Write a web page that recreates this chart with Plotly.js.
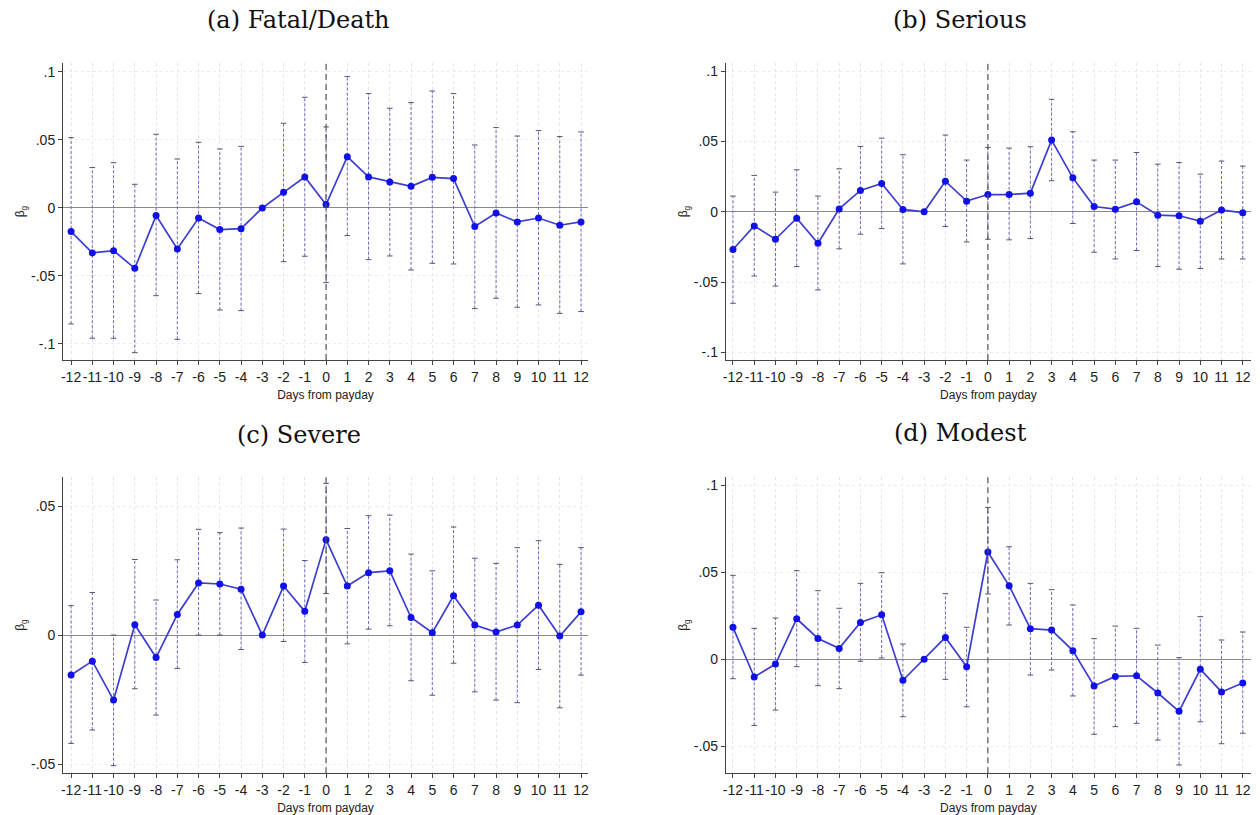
<!DOCTYPE html>
<html>
<head>
<meta charset="utf-8">
<script src="https://cdn.plot.ly/plotly-3.0.1.min.js"></script>
<style>html,body{margin:0;padding:0;background:#fff;}#chart{width:1260px;height:815px;}</style>
</head>
<body>
<div id="chart"></div>
<script>
const days = [-12,-11,-10,-9,-8,-7,-6,-5,-4,-3,-2,-1,0,1,2,3,4,5,6,7,8,9,10,11,12];

const panelTitles = ["(a) Fatal/Death", "(b) Serious", "(c) Severe", "(d) Modest"];

// (a) Fatal/Death
const fatalCoef = [-0.0174,-0.0331,-0.0314,-0.0444,-0.0056,-0.0301,-0.0074,-0.0159,-0.0152,0,0.0115,0.0228,0.0025,0.0377,0.0228,0.0191,0.0159,0.0225,0.0216,-0.0137,-0.0037,-0.0103,-0.0074,-0.0127,-0.0103];
const fatalHi   = [0.0517,0.0297,0.0333,0.0174,0.0542,0.0360,0.0483,0.0434,0.0453,null,0.0623,0.0814,0.0596,0.0966,0.0841,0.0733,0.0775,0.0860,0.0841,0.0463,0.0591,0.0529,0.0569,0.0525,0.0559];
const fatalLo   = [-0.0853,-0.0958,-0.0958,-0.1064,-0.0645,-0.0966,-0.0630,-0.0750,-0.0755,null,-0.0395,-0.0355,-0.0549,-0.0203,-0.0380,-0.0353,-0.0456,-0.0407,-0.0412,-0.0740,-0.0664,-0.0730,-0.0713,-0.0775,-0.0762];

// (b) Serious
const seriousCoef = [-0.0268,-0.0100,-0.0195,-0.0045,-0.0223,0.0021,0.0152,0.0202,0.0017,0,0.0218,0.0076,0.0123,0.0123,0.0133,0.0510,0.0242,0.0038,0.0019,0.0071,-0.0024,-0.0028,-0.0066,0.0014,-0.0007];
const seriousHi   = [0.0112,0.0259,0.0140,0.0299,0.0112,0.0306,0.0465,0.0524,0.0406,null,0.0546,0.0368,0.0458,0.0453,0.0463,0.0800,0.0569,0.0368,0.0368,0.0422,0.0339,0.0351,0.0268,0.0361,0.0325];
const seriousLo   = [-0.0650,-0.0456,-0.0527,-0.0389,-0.0555,-0.0263,-0.0159,-0.0119,-0.0370,null,-0.0104,-0.0214,-0.0195,-0.0199,-0.0190,0.0221,-0.0083,-0.0287,-0.0335,-0.0275,-0.0389,-0.0408,-0.0403,-0.0335,-0.0335];

// (c) Severe
const severeCoef = [-0.0155,-0.0101,-0.0252,0.0040,-0.0087,0.0080,0.0202,0.0198,0.0178,0,0.0190,0.0092,0.0370,0.0190,0.0242,0.0249,0.0068,0.0009,0.0152,0.0039,0.0012,0.0039,0.0116,-0.0004,0.0090];
const severeHi   = [0.0114,0.0165,0.0000,0.0293,0.0136,0.0292,0.0410,0.0397,0.0415,null,0.0411,0.0289,0.0588,0.0413,0.0463,0.0465,0.0314,0.0249,0.0419,0.0298,0.0278,0.0339,0.0366,0.0274,0.0339];
const severeLo   = [-0.0420,-0.0368,-0.0506,-0.0208,-0.0310,-0.0129,0.0000,0.0000,-0.0056,null,-0.0025,-0.0106,0.0161,-0.0034,0.0023,0.0036,-0.0177,-0.0233,-0.0109,-0.0220,-0.0252,-0.0262,-0.0133,-0.0282,-0.0155];

// (d) Modest
const modestCoef = [0.0184,-0.0101,-0.0027,0.0233,0.0120,0.0063,0.0212,0.0256,-0.0120,0,0.0126,-0.0042,0.0616,0.0423,0.0176,0.0168,0.0050,-0.0153,-0.0098,-0.0094,-0.0193,-0.0298,-0.0057,-0.0187,-0.0136];
const modestHi   = [0.0482,0.0178,0.0237,0.0509,0.0394,0.0293,0.0436,0.0497,0.0088,null,0.0377,0.0184,0.0872,0.0646,0.0436,0.0400,0.0312,0.0119,0.0191,0.0178,0.0082,0.0010,0.0245,0.0111,0.0157];
const modestLo   = [-0.0111,-0.0379,-0.0291,-0.0042,-0.0151,-0.0168,-0.0011,0.0008,-0.0329,null,-0.0115,-0.0272,0.0375,0.0197,-0.0090,-0.0061,-0.0210,-0.0430,-0.0386,-0.0367,-0.0463,-0.0606,-0.0358,-0.0484,-0.0424];

const yTickVals = [-0.1,-0.05,0,0.05,0.1];
const yTickText = ["-.1","-.05","0",".05",".1"];

const panels = [
  {coef: fatalCoef, lo: fatalLo, hi: fatalHi, xr:[-12.38,12.33], yr:[-0.1118,0.1066], xd:[0.05,0.4667], yd:[0.5583,0.9227], tx:0.2373, ty:0.9755},
  {coef: seriousCoef, lo: seriousLo, hi: seriousHi, xr:[-12.34,12.39], yr:[-0.1053,0.1058], xd:[0.576,0.9929], yd:[0.5583,0.9227], tx:0.7623, ty:0.9755},
  {coef: severeCoef, lo: severeLo, hi: severeHi, xr:[-12.38,12.33], yr:[-0.0536,0.0614], xd:[0.05,0.4667], yd:[0.0511,0.4151], tx:0.2373, ty:0.466},
  {coef: modestCoef, lo: modestLo, hi: modestHi, xr:[-12.34,12.39], yr:[-0.0654,0.1048], xd:[0.576,0.9929], yd:[0.0511,0.4151], tx:0.7623, ty:0.4687}
];

const traces = [];
const layout = {
  width: 1260, height: 815,
  margin: {l:0, r:0, t:0, b:0},
  paper_bgcolor: '#ffffff', plot_bgcolor: '#ffffff',
  showlegend: false,
  font: {family: 'Liberation Sans, Arial, sans-serif', color: '#222'},
  shapes: [], annotations: []
};

panels.forEach((p, i) => {
  const n = i + 1;
  const xa = n === 1 ? 'x' : 'x' + n;
  const ya = n === 1 ? 'y' : 'y' + n;
  const xk = n === 1 ? 'xaxis' : 'xaxis' + n;
  const yk = n === 1 ? 'yaxis' : 'yaxis' + n;

  // CI segments
  const sx = [], sy = [], cx = [], cy = [];
  days.forEach((d, j) => {
    if (p.lo[j] === null) return;
    sx.push(d, d, null); sy.push(p.lo[j], p.hi[j], null);
    cx.push(d, d); cy.push(p.lo[j], p.hi[j]);
  });
  traces.push({x: sx, y: sy, xaxis: xa, yaxis: ya, mode: 'lines', type: 'scatter',
    line: {color: '#6b6bb8', width: 1, dash: '3px,2px'}, hoverinfo: 'skip'});
  traces.push({x: cx, y: cy, xaxis: xa, yaxis: ya, mode: 'markers', type: 'scatter',
    marker: {symbol: 'line-ew', size: 4, line: {color: '#555577', width: 1}}, hoverinfo: 'skip'});
  traces.push({x: days, y: p.coef, xaxis: xa, yaxis: ya, mode: 'lines+markers', type: 'scatter',
    line: {color: '#3d3dd0', width: 1.7}, marker: {color: '#1010e8', size: 7}});

  layout[xk] = {
    domain: p.xd, range: p.xr, anchor: ya,
    tickmode: 'array', tickvals: days, ticktext: days.map(String), tickangle: 0,
    ticks: 'outside', ticklen: 4, tickcolor: '#444', tickwidth: 1,
    showline: true, linecolor: '#444', linewidth: 1, mirror: false,
    showgrid: true, gridcolor: '#e4e4ee', griddash: 'dot', gridwidth: 1,
    zeroline: false,
    tickfont: {size: 14, color: '#222', family: 'Liberation Sans, Arial, sans-serif'},
    title: {text: 'Days from payday', font: {size: 12, color: '#222'}, standoff: 6}
  };
  layout[yk] = {
    domain: p.yd, range: p.yr, anchor: xa,
    tickmode: 'array', tickvals: yTickVals, ticktext: yTickText,
    ticks: 'outside', ticklen: 4, tickcolor: '#444', tickwidth: 1,
    showline: true, linecolor: '#444', linewidth: 1,
    showgrid: true, gridcolor: '#ececf2', griddash: 'dot', gridwidth: 1,
    zeroline: true, zerolinecolor: '#8a8a8a', zerolinewidth: 1,
    tickfont: {size: 14, color: '#222', family: 'Liberation Sans, Arial, sans-serif'},
    title: {text: 'β<sub>g</sub>', font: {size: 12, color: '#222'}, standoff: 3}
  };

  // vertical dashed line at payday
  layout.shapes.push({type: 'line', xref: xa, yref: ya + ' domain', x0: 0, x1: 0, y0: 0, y1: 1,
    line: {color: '#555', width: 1.2, dash: '6px,4px'}, layer: 'above'});

  layout.annotations.push({text: panelTitles[i], xref: 'paper', yref: 'paper', x: p.tx, y: p.ty,
    xanchor: 'center', yanchor: 'middle', showarrow: false,
    font: {family: 'DejaVu Serif, serif', size: 24, color: '#111'}});
});

Plotly.newPlot('chart', traces, layout, {displayModeBar: false, staticPlot: true});
</script>
</body>
</html>
